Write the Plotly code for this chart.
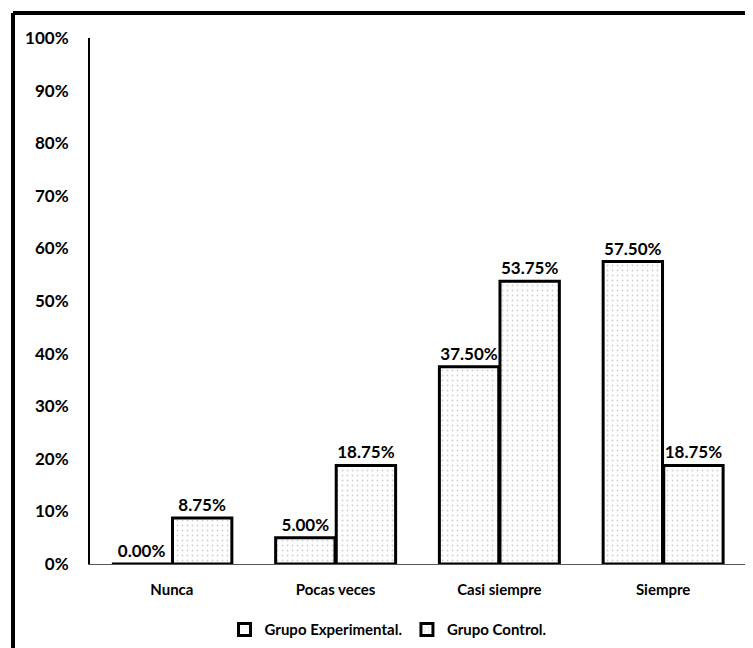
import plotly.graph_objects as go

categories = ["Nunca", "Pocas veces", "Casi siempre", "Siempre"]
experimental = [0.0, 5.00, 37.50, 57.50]
control = [8.75, 18.75, 53.75, 18.75]
series_names = ["Grupo Experimental.", "Grupo Control."]

FONT = "Lato, 'Open Sans', sans-serif"

def labels(vals):
    return [f"{v:.2f}%" for v in vals]

fig = go.Figure()
for name, vals in zip(series_names, [experimental, control]):
    fig.add_trace(go.Bar(
        name=name, x=categories, y=[v / 100 for v in vals],
        text=labels(vals), textposition="outside", cliponaxis=False,
        textfont=dict(family=FONT, size=17, color="black", weight="bold"),
        marker=dict(color="white", line=dict(color="black", width=3),
                    pattern=dict(shape=".", fgcolor="#a0a0a0", bgcolor="white", size=5, solidity=0.1)),
    ))

W, H = 745, 640
L, R, T, B = 82, 8, 30, 84
pw, ph = W - L - R, H - T - B
fx = (5 - L) / pw
fy = 1 + (T - 5) / ph

fig.update_layout(
    width=W, height=H,
    paper_bgcolor="white", plot_bgcolor="white",
    margin=dict(l=L, r=R, t=T, b=B, autoexpand=False),
    barmode="group", bargap=0.26, bargroupgap=0.02,
    font=dict(family=FONT, size=15, color="black", weight="bold"),
    showlegend=True,
    legend=dict(orientation="h", x=0.455, xanchor="center", y=-0.125, yanchor="middle",
                font=dict(family=FONT, size=15, color="black", weight="bold"), itemwidth=30),
    yaxis=dict(range=[0, 1], tickformat=".0%", dtick=0.1, showgrid=False,
               showline=True, linecolor="black", linewidth=2, ticks="",
               tickfont=dict(family=FONT, size=17, color="black", weight="bold"), zeroline=False,
               ticklabelstandoff=16),
    xaxis=dict(showline=True, linecolor="#555", linewidth=1, ticks="",
               tickfont=dict(family=FONT, size=15, color="black", weight="bold"),
               ticklabelstandoff=12),
    shapes=[
        dict(type="line", xref="paper", yref="paper", x0=fx, x1=1.05, y0=fy, y1=fy,
             line=dict(color="black", width=4)),
        dict(type="line", xref="paper", yref="paper", x0=fx, x1=fx, y0=fy, y1=-0.2,
             line=dict(color="black", width=4)),
    ],
)

fig.write_html("out.html")
